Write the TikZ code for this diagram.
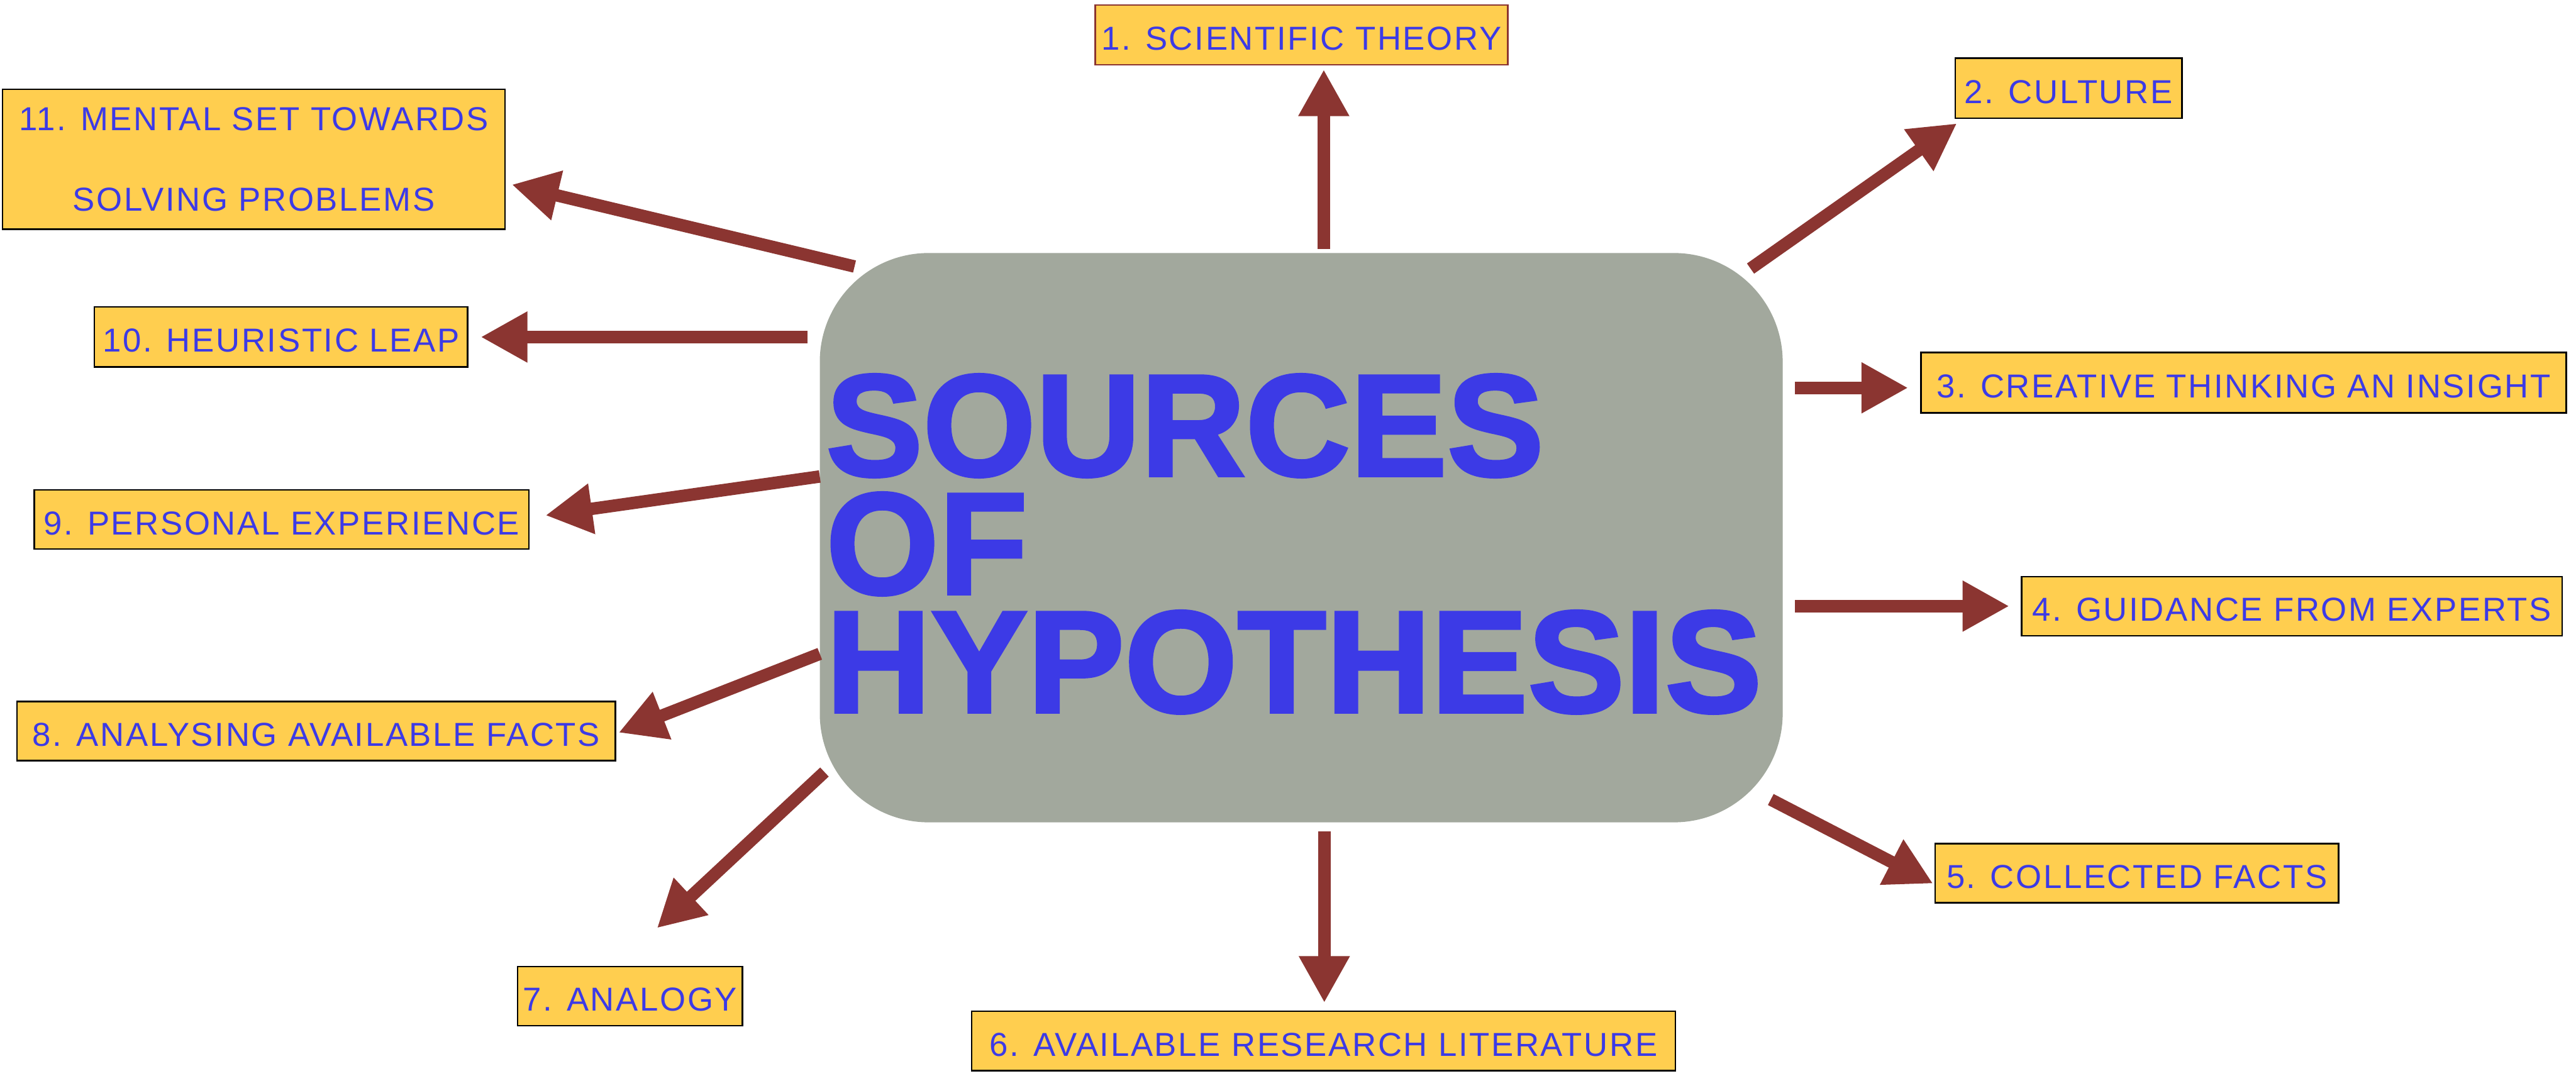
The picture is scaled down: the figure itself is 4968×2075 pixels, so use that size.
\documentclass[tikz,border=0pt]{standalone}
\usepackage{fontspec}
\usetikzlibrary{arrows.meta}
\newfontfamily\labelfont{Liberation Sans}[LetterSpace=5]
\newfontfamily\titlefont{Liberation Sans}[BoldFeatures={FakeBold=2}]
\definecolor{boxfill}{HTML}{FFCE4F}
\definecolor{textblue}{HTML}{3C3AE6}
\definecolor{arrowred}{HTML}{8B3531}
\definecolor{centralgray}{HTML}{A2A89D}
\begin{document}
\begin{tikzpicture}[x=0.2pt,y=-0.2pt,
  lblbase/.style={draw=black, line width=0.6pt, fill=boxfill, text=textblue, inner sep=0pt, anchor=center},
  lbl/.style={lblbase, font=\labelfont\fontsize{12.8}{15}\selectfont, text height=11.6pt, text depth=0pt},
  arr/.style={draw=arrowred, line width=4.8pt, line cap=butt, -{Triangle[length=18pt,width=18.4pt]}},
  ttl/.style={text=textblue, font=\titlefont\bfseries\fontsize{56}{45.6}\selectfont, inner sep=0pt, align=left, anchor=north west}]
\path[use as bounding box] (0,0) rectangle (4968,2075);

% central box
\node[fill=centralgray, rounded corners=42pt, minimum width=371.4pt, minimum height=219.6pt, inner sep=0pt] (c) at (2509.5,1037) {};
\node[ttl] (title) at (1592,721) {SOURCES\\OF\\HYPOTHESIS};

% labels
\node[lbl, draw=arrowred, minimum width=159.2pt, minimum height=23pt] (b1) at (2510,67.5) {1. SCIENTIFIC THEORY};
\node[lbl, minimum width=87.4pt, minimum height=23.2pt] (b2) at (3989.5,170) {2. CULTURE};
\node[lbl, minimum width=248.8pt, minimum height=23.2pt] (b3) at (4327,738) {3. CREATIVE THINKING AN INSIGHT};
\node[lbl, minimum width=208.4pt, minimum height=22.8pt] (b4) at (4420,1169) {4. GUIDANCE FROM EXPERTS};
\node[lbl, minimum width=155.6pt, minimum height=22.8pt] (b5) at (4121,1684) {5. COLLECTED FACTS};
\node[lbl, minimum width=271.4pt, minimum height=23pt] (b6) at (2552.5,2007.5) {6. AVAILABLE RESEARCH LITERATURE};
\node[lbl, minimum width=86.8pt, minimum height=22.8pt] (b7) at (1215,1921) {7. ANALOGY};
\node[lbl, minimum width=230.8pt, minimum height=22.8pt] (b8) at (610,1410) {8. ANALYSING AVAILABLE FACTS};
\node[lbl, minimum width=190.8pt, minimum height=22.8pt] (b9) at (543,1002) {9. PERSONAL EXPERIENCE};
\node[lbl, minimum width=144pt, minimum height=23.2pt] (b10) at (542,650) {10. HEURISTIC LEAP};
\node[lblbase, font=\labelfont\fontsize{12.8}{31}\selectfont, align=center, minimum width=193.8pt, minimum height=54pt] (b11) at (489.5,307) {11. MENTAL SET TOWARDS\\SOLVING PROBLEMS};

% arrow end points
\coordinate (s1) at (2553,480);   \coordinate (e1) at (2553,134);
\coordinate (s2) at (3376,518);   \coordinate (e2) at (3774,238);
\coordinate (s3) at (3462,748);   \coordinate (e3) at (3680,748);
\coordinate (s4) at (3462,1169);  \coordinate (e4) at (3875,1169);
\coordinate (s5) at (3415,1542);  \coordinate (e5) at (3728,1704);
\coordinate (s6) at (2554,1604);  \coordinate (e6) at (2554,1934);
\coordinate (s7) at (1590,1489);  \coordinate (e7) at (1267,1790);
\coordinate (s8) at (1581,1261);  \coordinate (e8) at (1193,1413);
\coordinate (s9) at (1581,919);   \coordinate (e9) at (1052,994);
\coordinate (s10) at (1557,650);  \coordinate (e10) at (927,650);
\coordinate (s11) at (1648,514);  \coordinate (e11) at (987,356);

\foreach \i in {1,...,11} {\draw[arr] (s\i) -- (e\i);}
\end{tikzpicture}
\end{document}
